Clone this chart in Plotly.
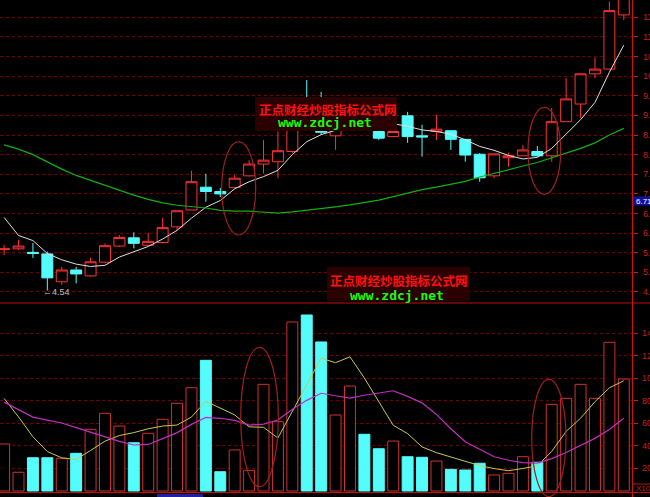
import plotly.graph_objects as go

# ---------------- data ----------------
idx = list(range(1, 45))
O = [5.58, 5.60, 5.51, 5.47, 4.76, 5.06, 4.91, 5.26, 5.67, 5.88, 5.69, 5.76, 6.16, 6.59, 7.17, 7.06,
     7.16, 7.46, 7.76, 7.82, 8.08, 9.45, 8.62, 8.48, 8.95, 9.10, 8.59, 8.46, 8.99, 8.48, 8.59, 8.61,
     8.39, 8.01, 7.46, 7.92, 7.97, 8.08, 7.97, 8.84, 9.29, 10.06, 10.18, 11.56]
C = [5.60, 5.67, 5.48, 4.86, 5.06, 4.96, 5.27, 5.68, 5.89, 5.74, 5.79, 6.14, 6.57, 7.31, 7.06, 7.00,
     7.40, 7.76, 7.86, 8.10, 8.88, 9.05, 8.57, 8.95, 9.10, 8.80, 8.42, 8.59, 8.46, 8.45, 8.65, 8.39,
     7.99, 7.41, 8.02, 7.97, 8.12, 7.97, 8.84, 9.42, 10.06, 10.18, 11.67, 12.10]
Hi = [5.70, 5.83, 5.75, 5.53, 5.14, 5.14, 5.37, 5.74, 5.95, 6.02, 6.00, 6.39, 6.57, 7.59, 7.51, 7.15,
      7.48, 7.86, 8.37, 8.59, 9.05, 9.90, 9.60, 9.05, 9.20, 9.15, 8.68, 8.76, 9.09, 8.76, 9.01, 8.61,
      8.39, 8.04, 8.02, 8.05, 8.25, 8.22, 9.19, 9.95, 10.06, 10.48, 11.90, 12.20]
Lo = [5.44, 5.57, 5.37, 4.54, 4.68, 4.72, 4.89, 5.23, 5.65, 5.61, 5.69, 5.74, 6.08, 6.59, 6.80, 6.92,
      7.16, 7.44, 7.52, 7.40, 8.04, 8.90, 8.50, 8.12, 8.80, 8.70, 8.37, 8.46, 8.30, 7.95, 8.37, 8.12,
      7.82, 7.31, 7.40, 7.69, 7.97, 7.95, 7.82, 8.84, 8.93, 9.95, 10.18, 11.43]
MA5 = [6.40, 5.94, 5.81, 5.48, 5.32, 5.21, 5.15, 5.18, 5.39, 5.53, 5.66, 5.85, 6.07, 6.38, 6.66, 6.83,
       7.13, 7.31, 7.44, 7.60, 8.00, 8.33, 8.51, 8.62, 8.68, 8.73, 8.77, 8.79, 8.72, 8.63, 8.59, 8.52,
       8.38, 8.21, 8.11, 7.98, 7.89, 7.93, 8.16, 8.52, 8.89, 9.33, 10.10, 10.79]
MA60 = [8.25, 8.14, 8.00, 7.81, 7.63, 7.47, 7.34, 7.23, 7.10, 6.97, 6.86, 6.77, 6.71, 6.68, 6.64, 6.58,
        6.56, 6.56, 6.53, 6.51, 6.54, 6.58, 6.63, 6.67, 6.72, 6.78, 6.84, 6.93, 7.02, 7.11, 7.17, 7.25,
        7.32, 7.43, 7.53, 7.62, 7.71, 7.80, 7.92, 8.04, 8.16, 8.30, 8.50, 8.67]
VOL = [41.7, 16.6, 29.5, 29.5, 29.0, 33.4, 54.7, 68.9, 57.6, 42.8, 51.2, 63.6, 77.8, 91.6, 115.9, 17.1,
       36.4, 18.3, 94.6, 61.5, 149.9, 156.1, 132.2, 67.4, 93.1, 50.3, 37.5, 44.3, 30.4, 29.9, 26.6, 19.2,
       18.6, 24.6, 14.2, 15.7, 30.4, 25.5, 76.9, 82.2, 94.6, 82.2, 131.9, 99.3]
VMA5 = [82.1, 65.7, 48.1, 35.0, 29.4, 28.1, 35.9, 44.2, 49.2, 51.8, 55.2, 57.6, 58.5, 65.6, 79.6, 73.4,
        67.5, 56.9, 56.5, 47.0, 70.2, 94.3, 117.8, 113.8, 119.0, 100.2, 79.8, 58.3, 50.9, 39.1, 34.0, 30.2,
        26.1, 22.5, 19.9, 18.0, 20.0, 22.4, 35.1, 52.9, 64.5, 79.2, 91.5, 97.8]
VMA10 = [78.8, 72.2, 65.5, 62.9, 60.3, 56.2, 52.2, 48.2, 44.0, 40.8, 41.3, 46.5, 51.8, 59.1, 65.3, 64.5,
         62.6, 58.4, 59.3, 63.0, 72.5, 80.4, 86.7, 84.5, 82.3, 84.9, 87.1, 88.9, 83.9, 78.2, 67.9, 55.2,
         43.7, 36.7, 30.4, 27.3, 25.1, 24.7, 28.7, 34.1, 40.4, 46.7, 54.6, 64.5]
price_ticks = [4.5, 5.0, 5.5, 6.0, 6.5, 7.0, 7.5, 8.0, 8.5, 9.0, 9.5, 10.0, 10.5, 11.0, 11.5]
vol_ticks = [20, 40, 60, 80, 100, 120, 140]
last_label = 6.71
low_label = 4.54

# ---------------- styling ----------------
RED = "#ff3232"
CYAN = "#54fcfc"
GRID = "#700000"
AXRED = "#c81e1e"
W, HH = 650, 497


def px(x):
    return x / W


def py(y):
    return 1 - y / HH


up = [c >= o for o, c in zip(O, C)]

fig = go.Figure()
fig.add_trace(go.Candlestick(
    x=idx, open=O, high=Hi, low=Lo, close=C, whiskerwidth=0,
    increasing=dict(line=dict(color=RED, width=1), fillcolor="black"),
    decreasing=dict(line=dict(color=CYAN, width=1), fillcolor=CYAN),
    hoverinfo="skip", xaxis="x", yaxis="y", showlegend=False))
fig.add_trace(go.Scatter(x=idx, y=MA5, mode="lines", line=dict(color="#e0e0e0", width=1),
                         xaxis="x", yaxis="y", hoverinfo="skip", showlegend=False))
fig.add_trace(go.Scatter(x=idx, y=MA60, mode="lines", line=dict(color="#10b010", width=1.2),
                         xaxis="x", yaxis="y", hoverinfo="skip", showlegend=False))
fig.add_trace(go.Bar(
    x=idx, y=VOL, width=0.76,
    marker=dict(color=["black" if u else CYAN for u in up],
                line=dict(color=["#d03030" if u else CYAN for u in up], width=1)),
    xaxis="x2", yaxis="y2", hoverinfo="skip", showlegend=False))
fig.add_trace(go.Scatter(x=idx, y=VMA5, mode="lines", line=dict(color="#c8c850", width=1),
                         xaxis="x2", yaxis="y2", hoverinfo="skip", showlegend=False))
fig.add_trace(go.Scatter(x=idx, y=VMA10, mode="lines", line=dict(color="#c030c0", width=1.2),
                         xaxis="x2", yaxis="y2", hoverinfo="skip", showlegend=False))

xr = [0.7153, 44.604]
xdom = [0, 632.5 / W]
common_x = dict(range=xr, domain=xdom, showgrid=False, zeroline=False, showticklabels=False,
                showline=False, ticks="", fixedrange=True)
fig.update_layout(
    width=W, height=HH, margin=dict(l=0, r=0, t=0, b=0, pad=0, autoexpand=False),
    paper_bgcolor="black", plot_bgcolor="black",
    boxgap=0.24, boxgroupgap=0,
    xaxis=dict(**common_x, anchor="y", rangeslider=dict(visible=False)),
    xaxis2=dict(**common_x, anchor="y2", matches="x"),
    yaxis=dict(domain=[py(302.5), 1], range=[4.232, 11.941], tickvals=price_ticks,
               showgrid=True, gridcolor=GRID, griddash="dot", gridwidth=1,
               showticklabels=False, zeroline=False, side="right", ticks="outside",
               ticklen=4, tickcolor=AXRED, anchor="x", fixedrange=True),
    yaxis2=dict(domain=[py(492), py(303.5)], range=[-0.887, 166.3], tickvals=vol_ticks,
                showgrid=True, gridcolor=GRID, griddash="dot", gridwidth=1,
                showticklabels=False, zeroline=False, side="right", ticks="outside",
                ticklen=4, tickcolor=AXRED, anchor="x2", fixedrange=True),
    showlegend=False,
)

shapes = []
# panel borders
shapes.append(dict(type="line", xref="paper", yref="paper", x0=px(632.5), x1=px(632.5), y0=0, y1=1,
                   line=dict(color="#d01010", width=1)))
shapes.append(dict(type="line", xref="paper", yref="paper", x0=0, x1=1, y0=py(303), y1=py(303),
                   line=dict(color="#c01010", width=1)))
shapes.append(dict(type="line", xref="paper", yref="paper", x0=0, x1=1, y0=py(492.5), y1=py(492.5),
                   line=dict(color="#c01010", width=1)))
shapes.append(dict(type="line", xref="paper", yref="paper", x0=px(632.5), x1=1, y0=py(484), y1=py(484),
                   line=dict(color="#c01010", width=1)))
# highlight ellipses
for (x0, x1, y0, y1) in [(221.7, 255.7, 141.7, 235), (528, 560.7, 107.3, 194.3),
                         (240.7, 278.3, 347.3, 486.7), (531.7, 566, 379.3, 496.7)]:
    shapes.append(dict(type="circle", xref="paper", yref="paper", x0=px(x0), x1=px(x1),
                       y0=py(y1), y1=py(y0), line=dict(color="#a02020", width=1.2)))
# watermark boxes
for (x0, x1, y0, y1) in [(255, 397, 97, 131), (327, 470, 267, 301)]:
    shapes.append(dict(type="rect", xref="paper", yref="paper", x0=px(x0), x1=px(x1),
                       y0=py(y1), y1=py(y0), fillcolor="#2a0000", line=dict(width=0), layer="above"))
# current value box
shapes.append(dict(type="rect", xref="paper", yref="paper", x0=px(633), x1=1, y0=py(205.5), y1=py(196.5),
                   fillcolor="#1010a0", line=dict(width=0), layer="above"))
# date box bottom
shapes.append(dict(type="rect", xref="paper", yref="paper", x0=px(157), x1=px(203), y0=py(505), y1=py(494),
                   fillcolor="#2020a0", line=dict(width=0), layer="above"))
fig.update_layout(shapes=shapes)

ann = []
lab_font = dict(family="Liberation Sans", size=9, color=AXRED)
for v in price_ticks:
    ann.append(dict(x=px(641), xref="paper", y=v, yref="y", text=f"{v:.2f}", showarrow=False,
                    xanchor="left", yanchor="middle", font=lab_font))
for v in vol_ticks:
    ann.append(dict(x=px(639.5), xref="paper", y=v, yref="y2", text=f"{v}", showarrow=False,
                    xanchor="left", yanchor="middle", font=lab_font))
ann.append(dict(x=px(634), xref="paper", y=py(488.5), yref="paper", text="X100", showarrow=False,
                xanchor="left", yanchor="middle", font=dict(family="Liberation Sans", size=8, color=AXRED)))
ann.append(dict(x=px(634), xref="paper", y=py(201), yref="paper", text=f"{last_label:.2f}", showarrow=False,
                xanchor="left", yanchor="middle", font=dict(family="Liberation Sans", size=8, color="white")))
ann.append(dict(x=4, xref="x", y=low_label, yref="y", text=f"←{low_label:.2f}", showarrow=False,
                xanchor="left", yanchor="middle", xshift=-6, yshift=-2,
                font=dict(family="Liberation Sans", size=9, color="#c0c0c0")))
# watermarks
for (cx, cy, gx, gy) in [(327.5, 109, 325, 123), (399, 280, 396.5, 295)]:
    ann.append(dict(x=px(cx), y=py(cy), xref="paper", yref="paper", text="正点财经炒股指标公式网",
                    showarrow=False, xanchor="center", yanchor="middle",
                    font=dict(family="Noto Sans CJK SC", size=12.5, color="#ff1010", weight="bold")))
    ann.append(dict(x=px(gx), y=py(gy), xref="paper", yref="paper", text="www.zdcj.net",
                    showarrow=False, xanchor="center", yanchor="middle",
                    font=dict(family="DejaVu Sans Mono", size=13, color="#10ff10", weight="bold")))
ann.append(dict(x=px(159), y=py(494), xref="paper", yref="paper", text="2010/03/27/五",
                showarrow=False, xanchor="left", yanchor="top",
                font=dict(family="Liberation Sans", size=9, color="white")))
fig.update_layout(annotations=ann)

fig.write_html("out.html", config={"displayModeBar": False, "staticPlot": True},
               post_script="document.body.style.margin='0';document.body.style.overflow='hidden';")
